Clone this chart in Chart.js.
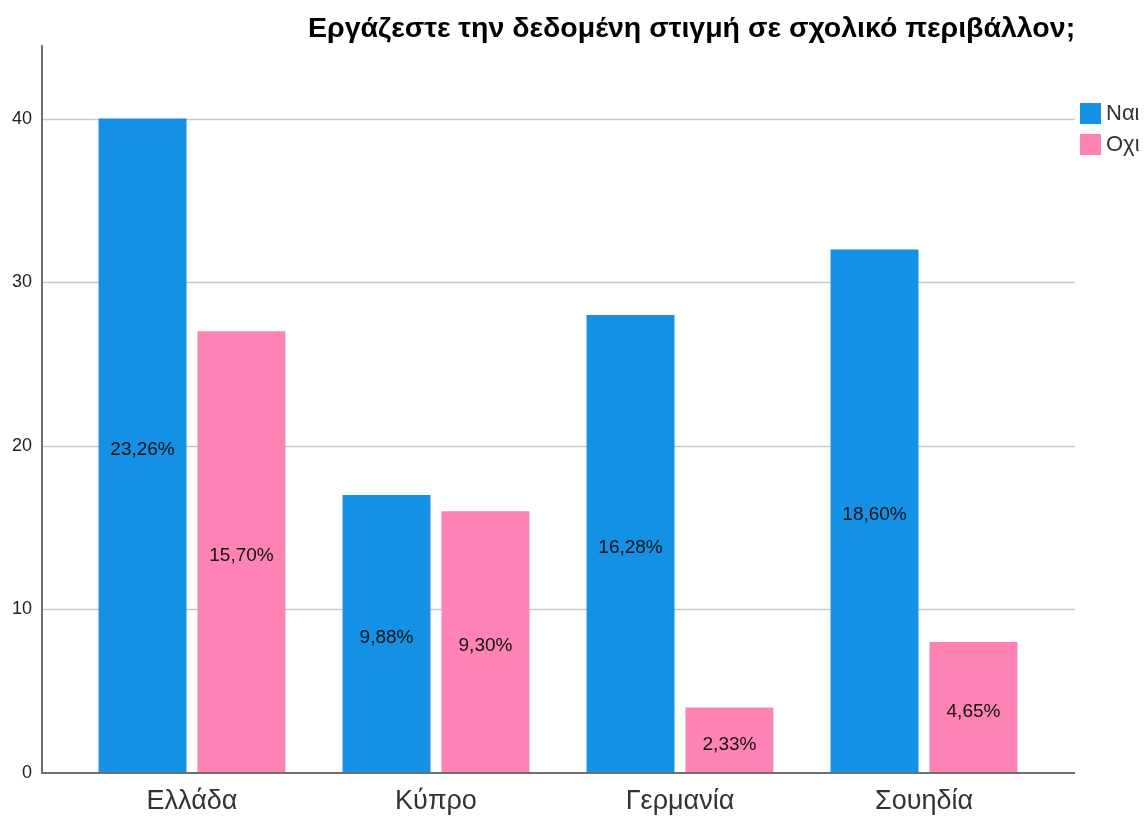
<!DOCTYPE html>
<html>
<head>
<meta charset="utf-8">
<script src="https://cdn.jsdelivr.net/npm/chart.js@4.4.0/dist/chart.umd.min.js"></script>
<style>
  html, body { margin: 0; padding: 0; background: #fff; }
  #wrap { width: 1146px; height: 817px; }
</style>
</head>
<body>
<div id="wrap"><canvas id="grafico"></canvas></div>
<script>
// Datos
const categories = ["Ελλάδα", "Κύπρο", "Γερμανία", "Σουηδία"];
const seriesNames = ["Ναι", "Οχι"];
const naiValues = [40, 17, 28, 32];
const oxiValues = [27, 16, 4, 8];
const naiLabels = ["23,26%", "9,88%", "16,28%", "18,60%"];
const oxiLabels = ["15,70%", "9,30%", "2,33%", "4,65%"];
const yTicks = [0, 10, 20, 30, 40];
const titleText = "Εργάζεστε την δεδομένη στιγμή σε σχολικό περιβάλλον;";

const FONT = "'Liberation Sans', Arial, sans-serif";

// Plugin: líneas de cuadrícula, ejes, etiquetas, título y leyenda
const decoraciones = {
  id: "decoraciones",
  beforeDatasetsDraw(chart) {
    const ctx = chart.ctx;
    const area = chart.chartArea;
    const y = chart.scales.y;
    ctx.save();
    ctx.strokeStyle = "#c9c9c9";
    ctx.lineWidth = 1.5;
    y.ticks.forEach((t) => {
      if (t.value === 0) return;
      const py = Math.round(y.getPixelForValue(t.value)) + 0.5;
      ctx.beginPath();
      ctx.moveTo(area.left - 28, py);
      ctx.lineTo(area.right + 29, py);
      ctx.stroke();
    });
    ctx.restore();
  },
  afterDatasetsDraw(chart) {
    const ctx = chart.ctx;
    const area = chart.chartArea;
    const y = chart.scales.y;
    const etiquetas = [naiLabels, oxiLabels];
    ctx.save();
    // etiquetas dentro de las barras
    ctx.font = "19px " + FONT;
    ctx.fillStyle = "#111";
    ctx.textAlign = "center";
    ctx.textBaseline = "middle";
    chart.data.datasets.forEach((ds, i) => {
      const meta = chart.getDatasetMeta(i);
      meta.data.forEach((bar, j) => {
        ctx.fillText(etiquetas[i][j], bar.x, (bar.y + bar.base) / 2 + 4);
      });
    });
    // ejes
    ctx.strokeStyle = "#6f6f6f";
    ctx.lineWidth = 2;
    const y0 = y.getPixelForValue(0);
    ctx.beginPath();
    ctx.moveTo(area.left - 28, area.top);
    ctx.lineTo(area.left - 28, y0);
    ctx.lineTo(area.right + 29, y0);
    ctx.stroke();
    // título
    ctx.font = "bold 28.5px " + FONT;
    ctx.fillStyle = "#000";
    ctx.textAlign = "left";
    ctx.textBaseline = "alphabetic";
    ctx.fillText(titleText, 308, 37);
    // leyenda
    ctx.font = "22px " + FONT;
    chart.data.datasets.forEach((ds, i) => {
      const top = 103 + i * 31;
      ctx.fillStyle = ds.backgroundColor;
      ctx.fillRect(1080, top, 21, 21);
      ctx.fillStyle = "#333";
      ctx.textBaseline = "middle";
      ctx.fillText(ds.label, 1106, top + 11);
    });
    ctx.restore();
  },
};

new Chart(document.getElementById("grafico"), {
  type: "bar",
  data: {
    labels: categories,
    datasets: [
      {
        label: seriesNames[0],
        data: naiValues,
        backgroundColor: "#1490e4",
        borderWidth: 0,
      },
      {
        label: seriesNames[1],
        data: oxiValues,
        backgroundColor: "#ff82b4",
        borderWidth: 0,
      },
    ],
  },
  options: {
    responsive: true,
    maintainAspectRatio: false,
    animation: false,
    layout: { padding: { top: 45, right: 100, left: 0, bottom: 0 } },
    categoryPercentage: 0.811,
    barPercentage: 0.889,
    plugins: {
      legend: { display: false },
      title: { display: false },
      tooltip: { enabled: false },
    },
    scales: {
      x: {
        grid: { display: false, drawTicks: false },
        border: { display: false },
        ticks: {
          font: { family: FONT, size: 27 },
          color: "#333",
          padding: 12,
        },
        afterFit(scale) {
          scale.height = 44;
        },
      },
      y: {
        min: 0,
        max: 44.5,
        grid: { display: false, drawTicks: false },
        border: { display: false },
        ticks: {
          font: { family: FONT, size: 18 },
          color: "#222",
          padding: 38,
        },
        afterBuildTicks(scale) {
          scale.ticks = yTicks.map((v) => ({ value: v }));
        },
        afterFit(scale) {
          scale.width = 70;
          scale.paddingTop = 0;
          scale.paddingBottom = 0;
        },
      },
    },
  },
  plugins: [decoraciones],
});
</script>
</body>
</html>
